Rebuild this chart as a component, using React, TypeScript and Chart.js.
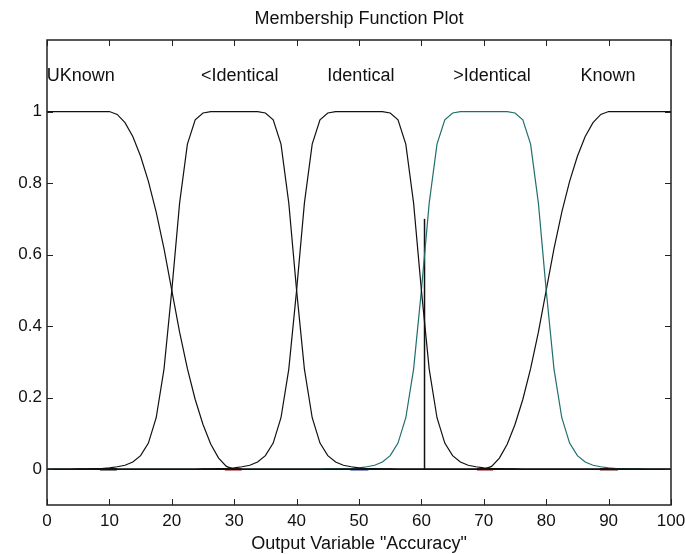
import React, { useEffect, useRef } from "react";
import { Chart, registerables } from "chart.js";

Chart.register(...registerables);

// ---- data ----
const xs = [
  0, 1.25, 2.5, 3.75, 5, 6.25, 7.5, 8.75, 10, 11.25, 12.5, 13.75, 15, 16.25, 17.5, 18.75,
  20, 21.25, 22.5, 23.75, 25, 26.25, 27.5, 28.75, 30, 31.25, 32.5, 33.75, 35, 36.25, 37.5, 38.75,
  40, 41.25, 42.5, 43.75, 45, 46.25, 47.5, 48.75, 50, 51.25, 52.5, 53.75, 55, 56.25, 57.5, 58.75,
  60, 61.25, 62.5, 63.75, 65, 66.25, 67.5, 68.75, 70, 71.25, 72.5, 73.75, 75, 76.25, 77.5, 78.75,
  80, 81.25, 82.5, 83.75, 85, 86.25, 87.5, 88.75, 90, 91.25, 92.5, 93.75, 95, 96.25, 97.5, 98.75, 100,
];

const uknown = [
  1, 1, 1, 1, 1, 1, 1, 1, 1,
  0.992, 0.969, 0.93, 0.875, 0.805, 0.719, 0.617, 0.5, 0.383, 0.281, 0.195, 0.125, 0.07, 0.031, 0.008,
  0, 0, 0, 0, 0, 0, 0, 0, 0, 0, 0, 0, 0, 0, 0, 0, 0, 0, 0, 0, 0, 0, 0, 0, 0, 0, 0, 0, 0, 0, 0, 0, 0,
  0, 0, 0, 0, 0, 0, 0, 0, 0, 0, 0, 0, 0, 0, 0, 0, 0, 0, 0, 0, 0, 0, 0, 0, 0, 0, 0, 0,
];

const lessIdentical = [
  0, 0, 0, 0,
  0.001, 0.001, 0.002, 0.002, 0.004, 0.007, 0.011, 0.02, 0.038, 0.073, 0.144, 0.28, 0.5, 0.744, 0.909, 0.977, 0.996,
  1, 1, 1, 1, 1, 1, 1,
  0.996, 0.977, 0.909, 0.744, 0.5, 0.28, 0.144, 0.073, 0.038, 0.02, 0.011, 0.007, 0.004, 0.002, 0.002, 0.001, 0.001,
  0, 0, 0, 0, 0, 0, 0, 0, 0, 0, 0, 0, 0, 0, 0, 0, 0, 0, 0, 0, 0, 0, 0, 0, 0, 0, 0, 0, 0, 0, 0, 0, 0, 0, 0, 0,
];

const identical = [
  0, 0, 0, 0, 0, 0, 0, 0, 0, 0, 0, 0, 0, 0, 0, 0, 0, 0, 0, 0,
  0.001, 0.001, 0.002, 0.002, 0.004, 0.007, 0.011, 0.02, 0.038, 0.073, 0.144, 0.28, 0.5, 0.744, 0.909, 0.977, 0.996,
  1, 1, 1, 1, 1, 1, 1,
  0.996, 0.977, 0.909, 0.744, 0.5, 0.28, 0.144, 0.073, 0.038, 0.02, 0.011, 0.007, 0.004, 0.002, 0.002, 0.001, 0.001,
  0, 0, 0, 0, 0, 0, 0, 0, 0, 0, 0, 0, 0, 0, 0, 0, 0, 0, 0, 0,
];

const greaterIdentical = [
  0, 0, 0, 0, 0, 0, 0, 0, 0, 0, 0, 0, 0, 0, 0, 0, 0, 0, 0, 0, 0, 0, 0, 0, 0, 0, 0, 0, 0, 0, 0, 0, 0, 0, 0, 0,
  0.001, 0.001, 0.002, 0.002, 0.004, 0.007, 0.011, 0.02, 0.038, 0.073, 0.144, 0.28, 0.5, 0.744, 0.909, 0.977, 0.996,
  1, 1, 1, 1, 1, 1, 1,
  0.996, 0.977, 0.909, 0.744, 0.5, 0.28, 0.144, 0.073, 0.038, 0.02, 0.011, 0.007, 0.004, 0.002, 0.002, 0.001, 0.001,
  0, 0, 0, 0,
];

const known = [
  0, 0, 0, 0, 0, 0, 0, 0, 0, 0, 0, 0, 0, 0, 0, 0, 0, 0, 0, 0, 0, 0, 0, 0, 0, 0, 0, 0, 0, 0,
  0, 0, 0, 0, 0, 0, 0, 0, 0, 0, 0, 0, 0, 0, 0, 0, 0, 0, 0, 0, 0, 0, 0, 0, 0, 0, 0,
  0.008, 0.031, 0.07, 0.125, 0.195, 0.281, 0.383, 0.5, 0.617, 0.719, 0.805, 0.875, 0.93, 0.969, 0.992,
  1, 1, 1, 1, 1, 1, 1, 1, 1,
];

const mfNames = ["UKnown", "<Identical", "Identical", ">Identical", "Known"];
const mfLabelX = [5.4, 30.9, 50.3, 71.3, 89.9];
const mfLabelY = 1.1;

// output indicator line
const outputX = 60.5;
const outputY = 0.7;

// small coloured marks lying on the zero line
const zeroMarkStart = [8.5, 28.5, 48.6, 68.9, 88.6];
const zeroMarkEnd = [11.2, 31.2, 51.5, 71.5, 91.5];
const zeroMarkColor = ["#000000", "#8b0000", "#1a1a80", "#8b0000", "#5a0a0a"];

const xTicks = [0, 10, 20, 30, 40, 50, 60, 70, 80, 90, 100];
const yTicks = [0, 0.2, 0.4, 0.6, 0.8, 1];
const xMin = 0, xMax = 100, yMin = -0.1, yMax = 1.2;

const titleText = "Membership Function Plot";
const xTitleText = 'Output Variable "Accuracy"';

const FONT = '"Liberation Sans", Arial, Helvetica, sans-serif';

const curveColors = ["#111111", "#111111", "#111111", "#226e6e", "#111111"];
const curves = [uknown, lessIdentical, identical, greaterIdentical, known];

const decorPlugin = {
  id: "matlabDecor",
  afterDatasetsDraw(chart: any) {
    const { ctx, chartArea: a, scales } = chart;
    const x = scales.x, y = scales.y;
    ctx.save();
    ctx.strokeStyle = "#222";
    ctx.lineWidth = 1;
    const tl = 6;
    xTicks.forEach((v) => {
      const px = Math.round(x.getPixelForValue(v)) + 0.5;
      ctx.beginPath();
      ctx.moveTo(px, a.bottom); ctx.lineTo(px, a.bottom - tl);
      ctx.moveTo(px, a.top); ctx.lineTo(px, a.top + tl);
      ctx.stroke();
    });
    yTicks.forEach((v) => {
      const py = Math.round(y.getPixelForValue(v)) + 0.5;
      ctx.beginPath();
      ctx.moveTo(a.left, py); ctx.lineTo(a.left + tl, py);
      ctx.moveTo(a.right, py); ctx.lineTo(a.right - tl, py);
      ctx.stroke();
    });
    ctx.strokeStyle = "#222";
    ctx.lineWidth = 1.5;
    ctx.strokeRect(a.left, a.top, a.right - a.left, a.bottom - a.top);
    ctx.fillStyle = "#111";
    ctx.font = "18px " + FONT;
    ctx.textAlign = "center";
    ctx.textBaseline = "middle";
    mfNames.forEach((n, i) => {
      ctx.fillText(n, x.getPixelForValue(mfLabelX[i]), y.getPixelForValue(mfLabelY));
    });
    const cx = (a.left + a.right) / 2;
    ctx.fillText(titleText, cx, a.top - 21);
    ctx.fillText(xTitleText, cx, a.bottom + 39);
    ctx.restore();
  },
};

export default function App() {
  const ref = useRef<HTMLCanvasElement | null>(null);
  useEffect(() => {
    if (!ref.current) return;
    const datasets: any[] = [];
    datasets.push({
      data: [{ x: xMin, y: 0 }, { x: xMax, y: 0 }],
      borderColor: "#111",
      borderWidth: 1.5,
    });
    curves.forEach((vals, i) => {
      datasets.push({
        data: xs.map((xv, j) => ({ x: xv, y: vals[j] })),
        borderColor: curveColors[i],
        borderWidth: 1.2,
      });
    });
    zeroMarkStart.forEach((s, i) => {
      datasets.push({
        data: [{ x: s, y: 0 }, { x: zeroMarkEnd[i], y: 0 }],
        borderColor: zeroMarkColor[i],
        borderWidth: 2.5,
      });
    });
    datasets.push({
      data: [{ x: outputX, y: 0 }, { x: outputX, y: outputY }],
      borderColor: "#111",
      borderWidth: 1.5,
    });
    datasets.forEach((d) => {
      d.showLine = true;
      d.pointRadius = 0;
      d.tension = 0;
      d.fill = false;
    });
    const chart = new Chart(ref.current, {
      type: "scatter",
      data: { datasets },
      options: {
        animation: false,
        responsive: false,
        maintainAspectRatio: false,
        layout: { padding: { top: 40, right: 14, left: 0, bottom: 0 } },
        plugins: { legend: { display: false }, tooltip: { enabled: false }, title: { display: false } },
        scales: {
          x: {
            type: "linear",
            min: xMin,
            max: xMax,
            grid: { display: false, drawTicks: false },
            border: { display: false },
            afterBuildTicks: (s: any) => { s.ticks = xTicks.map((v) => ({ value: v })); },
            afterFit: (s: any) => { s.height = 49; s.paddingLeft = 0; s.paddingRight = 0; },
            ticks: { color: "#111", font: { family: FONT, size: 17 }, padding: 6, maxRotation: 0, autoSkip: false,
              callback: (v: any) => String(v) },
          },
          y: {
            type: "linear",
            min: yMin,
            max: yMax,
            grid: { display: false, drawTicks: false },
            border: { display: false },
            afterBuildTicks: (s: any) => { s.ticks = yTicks.map((v) => ({ value: v })); },
            afterFit: (s: any) => { s.width = 47; s.paddingTop = 0; s.paddingBottom = 0; },
            ticks: { color: "#111", font: { family: FONT, size: 17 }, padding: 5, autoSkip: false,
              callback: (v: any) => String(v) },
          },
        },
      },
      plugins: [decorPlugin],
    });
    return () => chart.destroy();
  }, []);
  return (
    <div style={{ position: "fixed", left: 0, top: 0, width: 685, height: 554, background: "#fff" }}>
      <canvas ref={ref} width={685} height={554} style={{ display: "block" }} />
    </div>
  );
}
